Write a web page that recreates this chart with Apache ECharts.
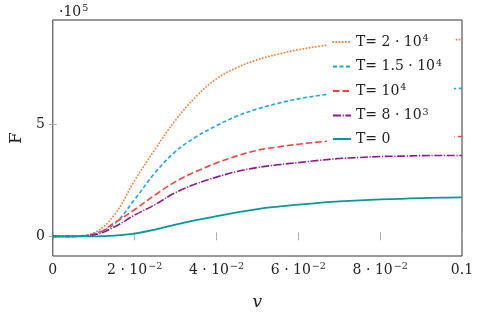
<!DOCTYPE html>
<html>
<head>
<meta charset="utf-8">
<script src="https://cdn.jsdelivr.net/npm/echarts@6/dist/echarts.min.js"></script>
<style>
    html, body { margin: 0; padding: 0; background: #fff; }
    #chart_main { width: 481px; height: 316px; }
</style>
</head>
<body>
<div id="chart_main"></div>
<script>
// v values (x axis)
var vData = [0, 0.005, 0.01, 0.015, 0.02, 0.025, 0.03, 0.035, 0.04, 0.045, 0.05, 0.055, 0.06, 0.065, 0.07, 0.075, 0.08, 0.085, 0.09, 0.095, 0.1];
// F values, in units of 10^5
var fT20000 = [0, 0, 0.15, 0.95, 2.5, 3.9, 5.2, 6.25, 7.05, 7.55, 7.9, 8.15, 8.35, 8.5, 8.62, 8.7, 8.74, 8.77, 8.79, 8.8, 8.8];
var fT15000 = [0, 0, 0.12, 0.55, 1.65, 2.85, 3.8, 4.45, 4.95, 5.38, 5.7, 5.95, 6.15, 6.3, 6.42, 6.5, 6.55, 6.58, 6.6, 6.61, 6.62];
var fT10000 = [0, 0, 0.08, 0.6, 1.2, 1.85, 2.45, 2.9, 3.28, 3.6, 3.85, 4.0, 4.12, 4.22, 4.3, 4.36, 4.4, 4.43, 4.45, 4.46, 4.47];
var fT8000 = [0, 0, 0.06, 0.42, 0.95, 1.42, 1.96, 2.35, 2.65, 2.9, 3.08, 3.2, 3.3, 3.4, 3.48, 3.53, 3.57, 3.59, 3.61, 3.62, 3.62];
var fT0 = [0, 0, 0, 0.03, 0.12, 0.3, 0.52, 0.72, 0.9, 1.07, 1.22, 1.33, 1.42, 1.5, 1.56, 1.61, 1.65, 1.68, 1.71, 1.73, 1.74];

var xTicks = [0, 0.02, 0.04, 0.06, 0.08, 0.1];
var xTickLabels = ['{n|0}', '{n|2 · 10}{s|−2}', '{n|4 · 10}{s|−2}', '{n|6 · 10}{s|−2}', '{n|8 · 10}{s|−2}', '{n|0.1}'];
var yTicks = [0, 5];

var seriesNames = ['T= 2 · 10^4', 'T= 1.5 · 10^4', 'T= 10^4', 'T= 8 · 10^3', 'T= 0'];
var legendLabels = ['{n|T= 2 · 10}{s|4}', '{n|T= 1.5 · 10}{s|4}', '{n|T= 10}{s|4}', '{n|T= 8 · 10}{s|3}', '{n|T= 0}'];

var serif = '"DejaVu Serif", "Liberation Serif", serif';
var richText = {
    n: { fontFamily: serif, fontSize: 14, fontWeight: 'normal', color: '#222', lineHeight: 16 },
    s: { fontFamily: serif, fontSize: 9.5, fontWeight: 'normal', color: '#222', lineHeight: 10, verticalAlign: 'top', padding: [0, 0, 0, 1] }
};

function pairs(ys) {
    var out = [];
    for (var i = 0; i < vData.length; i++) {
        out.push([vData[i], ys[i]]);
    }
    return out;
}

function makeLine(name, ys, color, dash, width, cap) {
    return {
        name: name,
        type: 'line',
        smooth: 0.4,
        symbol: 'none',
        lineStyle: { color: color, width: width, type: dash, cap: cap || 'butt' },
        itemStyle: { color: color },
        data: pairs(ys)
    };
}

var chart_main = echarts.init(document.getElementById('chart_main'));

var tickStyle = { show: true, inside: true, length: 4, lineStyle: { color: '#aaa' } };

var option = {
    animation: false,
    grid: {
        left: 49, top: 20, right: 19, bottom: 60,
        show: true, borderColor: '#333', borderWidth: 1, backgroundColor: 'transparent'
    },
    title: {
        text: '{n|·10}{s|5}',
        left: 54, top: -1,
        textStyle: { rich: richText }
    },
    legend: {
        orient: 'vertical',
        left: 327, top: 29,
        padding: [5, 12, 5, 5],
        backgroundColor: '#fff',
        itemWidth: 18, itemHeight: 14, itemGap: 9.5, itemTextGap: 6,
        itemStyle: { color: 'rgba(0,0,0,0)', borderWidth: 0 },
        data: seriesNames,
        formatter: function (name) {
            return legendLabels[seriesNames.indexOf(name)];
        },
        textStyle: { rich: richText }
    },
    xAxis: [
        {
            type: 'value', min: 0, max: 0.1, interval: 0.02,
            position: 'bottom',
            name: 'v', nameLocation: 'middle', nameGap: 38,
            nameTextStyle: { fontFamily: serif, fontStyle: 'italic', fontSize: 17, color: '#222' },
            axisLine: { show: false },
            axisTick: tickStyle,
            splitLine: { show: false },
            axisLabel: {
                margin: 6,
                formatter: function (val) {
                    var k = xTicks.indexOf(Math.round(val * 100) / 100);
                    return k >= 0 ? xTickLabels[k] : '';
                },
                rich: richText
            }
        },
        {
            type: 'value', min: 0, max: 0.1, interval: 0.02,
            position: 'top',
            axisLine: { show: false },
            axisTick: tickStyle,
            axisLabel: { show: false },
            splitLine: { show: false }
        }
    ],
    yAxis: [
        {
            type: 'value', min: -0.88, max: 9.68,
            position: 'left',
            name: 'F', nameLocation: 'middle', nameGap: 26,
            nameTextStyle: { fontFamily: serif, fontSize: 17, color: '#222' },
            axisLine: { show: false },
            axisTick: { show: true, inside: true, length: 4, lineStyle: { color: '#aaa' }, customValues: yTicks },
            splitLine: { show: false },
            axisLabel: { margin: 8, customValues: yTicks, fontFamily: serif, fontSize: 14, color: '#222' }
        },
        {
            type: 'value', min: -0.88, max: 9.68,
            position: 'right',
            axisLine: { show: false },
            axisTick: { show: true, inside: true, length: 4, lineStyle: { color: '#aaa' }, customValues: yTicks },
            axisLabel: { show: false },
            splitLine: { show: false }
        }
    ],
    series: [
        makeLine(seriesNames[0], fT20000, '#f7813a', [0.2, 3], 1.8, 'round'),
        makeLine(seriesNames[1], fT15000, '#1ba6e4', [4, 2.5], 1.6),
        makeLine(seriesNames[2], fT10000, '#ff3d3d', [6.5, 3], 1.6),
        makeLine(seriesNames[3], fT8000, '#8e1b8e', [8, 1.6, 1.2, 1.6], 1.6),
        makeLine(seriesNames[4], fT0, '#03999a', 'solid', 1.8)
    ]
};

chart_main.setOption(option);
</script>
</body>
</html>
